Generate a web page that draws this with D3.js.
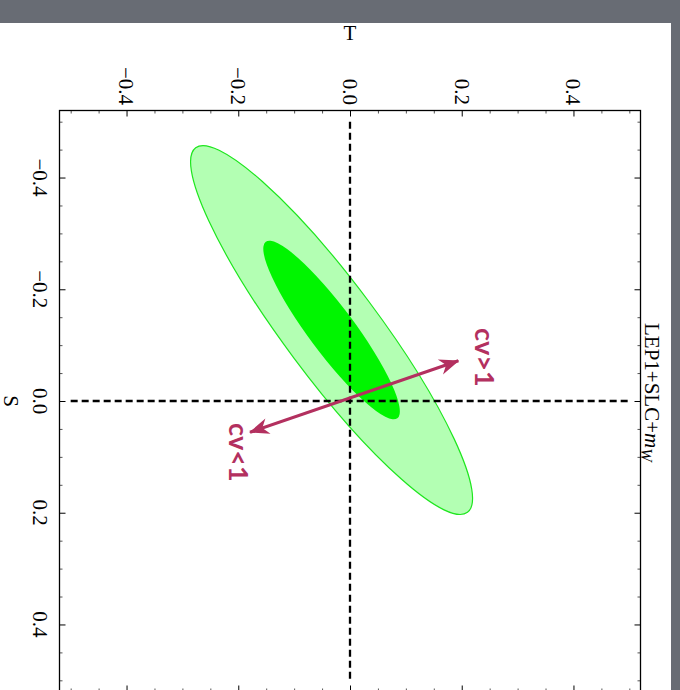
<!DOCTYPE html>
<html>
<head>
<meta charset="utf-8">
<script src="https://cdn.jsdelivr.net/npm/d3@7"></script>
<style>
  body { margin: 0; background: #686c74; }
  svg { display: block; }
</style>
</head>
<body>
<div id="chart"></div>
<script>
// tick values and labels (same for S and T)
var majorTicks = [-0.4, -0.2, 0.0, 0.2, 0.4];
var tickLabels = ["\u22120.4", "\u22120.2", "0.0", "0.2", "0.4"];
var minorTicks = [-0.5, -0.45, -0.35, -0.3, -0.25, -0.15, -0.1, -0.05,
                  0.05, 0.1, 0.15, 0.25, 0.3, 0.35, 0.45, 0.5];

// confidence ellipses: outer (light) and inner (dark)
var regionNames = ["outer", "inner"];
var centerT = [-0.033, -0.033];
var centerS = [-0.127, -0.127];
var semiMajor = [0.407, 0.197];
var semiMinor = [0.084, 0.041];
var tiltDeg = [53.3, 53.3];   // major axis angle in the (T,S) plane
var regionFill = ["#b3ffb3", "#00f500"];

// arrow end points [T, S]
var arrowUp = [0.194, -0.072];
var arrowDown = [-0.179, 0.056];

var svgWidth = 680;
var svgHeight = 690;
var frame = { left: 59.5, right: 640.5, top: 110.5, bottom: 691.5 };

var svg = d3.select("#chart")
  .append("svg")
  .attr("width", svgWidth)
  .attr("height", svgHeight);

// slide background and white page
svg.append("rect")
  .attr("width", svgWidth).attr("height", svgHeight)
  .attr("fill", "#686c74");
svg.append("rect")
  .attr("x", -1).attr("y", 23)
  .attr("width", 672).attr("height", svgHeight - 23)
  .attr("fill", "#ffffff");

// T runs left-right, S runs top-down (figure is rotated)
var x = d3.scaleLinear().domain([-0.52, 0.52]).range([frame.left, frame.right]);
var y = d3.scaleLinear().domain([-0.52, 0.52]).range([frame.top, frame.bottom]);

svg.append("clipPath").attr("id", "clip")
  .append("rect")
  .attr("x", frame.left).attr("y", frame.top)
  .attr("width", frame.right - frame.left)
  .attr("height", frame.bottom - frame.top);

var plot = svg.append("g").attr("clip-path", "url(#clip)");

plot.selectAll("ellipse")
  .data(regionNames)
  .enter()
  .append("ellipse")
  .attr("cx", (d, i) => x(centerT[i]))
  .attr("cy", (d, i) => y(centerS[i]))
  .attr("rx", (d, i) => x(semiMajor[i]) - x(0))
  .attr("ry", (d, i) => y(semiMinor[i]) - y(0))
  .attr("transform", (d, i) => `rotate(${tiltDeg[i]},${x(centerT[i])},${y(centerS[i])})`)
  .attr("fill", (d, i) => regionFill[i])
  .attr("stroke", d => d === "outer" ? "#1ee61e" : "none")
  .attr("stroke-width", 1.2);

// dashed zero lines
plot.append("line")
  .attr("x1", x(-0.5)).attr("x2", x(0.5))
  .attr("y1", y(0)).attr("y2", y(0))
  .attr("stroke", "#000").attr("stroke-width", 2.3)
  .attr("stroke-dasharray", "7,4");
plot.append("line")
  .attr("x1", x(0)).attr("x2", x(0))
  .attr("y1", y(-0.5)).attr("y2", y(0.5))
  .attr("stroke", "#000").attr("stroke-width", 2.3)
  .attr("stroke-dasharray", "7,4");

// arrow
var arrowColor = "#b3305f";
svg.append("defs").append("marker")
  .attr("id", "head")
  .attr("viewBox", "-20 -9 21 18")
  .attr("refX", 0).attr("refY", 0)
  .attr("markerWidth", 21).attr("markerHeight", 18)
  .attr("markerUnits", "userSpaceOnUse")
  .attr("orient", "auto-start-reverse")
  .append("path")
  .attr("d", "M1,0 L-19,-8 L-13,0 L-19,8 Z")
  .attr("fill", arrowColor);

svg.append("line")
  .attr("x1", x(arrowDown[0])).attr("y1", y(arrowDown[1]))
  .attr("x2", x(arrowUp[0])).attr("y2", y(arrowUp[1]))
  .attr("stroke", arrowColor)
  .attr("stroke-width", 3.2)
  .attr("marker-start", "url(#head)")
  .attr("marker-end", "url(#head)");

function rotatedText(px, py, str) {
  return svg.append("text")
    .attr("transform", `translate(${px},${py}) rotate(90)`)
    .text(str);
}

rotatedText(475, 328, "cv>1")
  .attr("font-family", "Lato, sans-serif")
  .attr("font-weight", "bold")
  .attr("font-size", "27px")
  .attr("fill", arrowColor);
rotatedText(229, 423, "cv<1")
  .attr("font-family", "Lato, sans-serif")
  .attr("font-weight", "bold")
  .attr("font-size", "27px")
  .attr("fill", arrowColor);

// ticks on all four sides, pointing inward
function addTicks(axis, transform, values, size) {
  var g = svg.append("g")
    .attr("transform", transform)
    .call(axis.tickValues(values).tickSizeInner(-size).tickSizeOuter(0).tickFormat(""));
  g.select(".domain").remove();
  return g;
}
addTicks(d3.axisTop(x), `translate(0,${frame.top})`, majorTicks, 6);
addTicks(d3.axisTop(x), `translate(0,${frame.top})`, minorTicks, 3).selectAll("line").attr("stroke", "#555");
addTicks(d3.axisBottom(x), `translate(0,${frame.bottom})`, majorTicks, 6);
addTicks(d3.axisBottom(x), `translate(0,${frame.bottom})`, minorTicks, 3).selectAll("line").attr("stroke", "#555");
addTicks(d3.axisLeft(y), `translate(${frame.left},0)`, majorTicks, 6);
addTicks(d3.axisLeft(y), `translate(${frame.left},0)`, minorTicks, 3).selectAll("line").attr("stroke", "#555");
addTicks(d3.axisRight(y), `translate(${frame.right},0)`, majorTicks, 6);
addTicks(d3.axisRight(y), `translate(${frame.right},0)`, minorTicks, 3).selectAll("line").attr("stroke", "#555");

svg.append("rect")
  .attr("x", frame.left).attr("y", frame.top)
  .attr("width", frame.right - frame.left)
  .attr("height", frame.bottom - frame.top)
  .attr("fill", "none")
  .attr("stroke", "#000")
  .attr("stroke-width", 1.3);

// tick labels: T on top, S on the left, both rotated
svg.selectAll(".tlabel")
  .data(majorTicks)
  .enter()
  .append("text")
  .attr("class", "tlabel")
  .attr("transform", d => `translate(${x(d)},105) rotate(90)`)
  .attr("dy", "0.34em")
  .attr("text-anchor", "end")
  .attr("font-family", "Liberation Serif, serif")
  .attr("font-size", "21px")
  .text((d, i) => tickLabels[i]);

svg.selectAll(".slabel")
  .data(majorTicks)
  .enter()
  .append("text")
  .attr("class", "slabel")
  .attr("transform", d => `translate(33,${y(d)}) rotate(90)`)
  .attr("text-anchor", "middle")
  .attr("font-family", "Liberation Serif, serif")
  .attr("font-size", "21px")
  .text((d, i) => tickLabels[i]);

// axis titles
svg.append("text")
  .attr("x", x(0)).attr("y", 40)
  .attr("text-anchor", "middle")
  .attr("font-family", "Liberation Serif, serif")
  .attr("font-size", "21px")
  .text("T");

rotatedText(4, y(0), "S")
  .attr("text-anchor", "middle")
  .attr("font-family", "Liberation Serif, serif")
  .attr("font-size", "21px");

var title = rotatedText(645, 323, "LEP1+SLC+")
  .attr("font-family", "Liberation Serif, serif")
  .attr("font-size", "21px");
title.append("tspan").attr("font-style", "italic").text("m");
title.append("tspan").attr("font-style", "italic")
  .attr("font-size", "16px").attr("dy", "4").text("W");
</script>
</body>
</html>
